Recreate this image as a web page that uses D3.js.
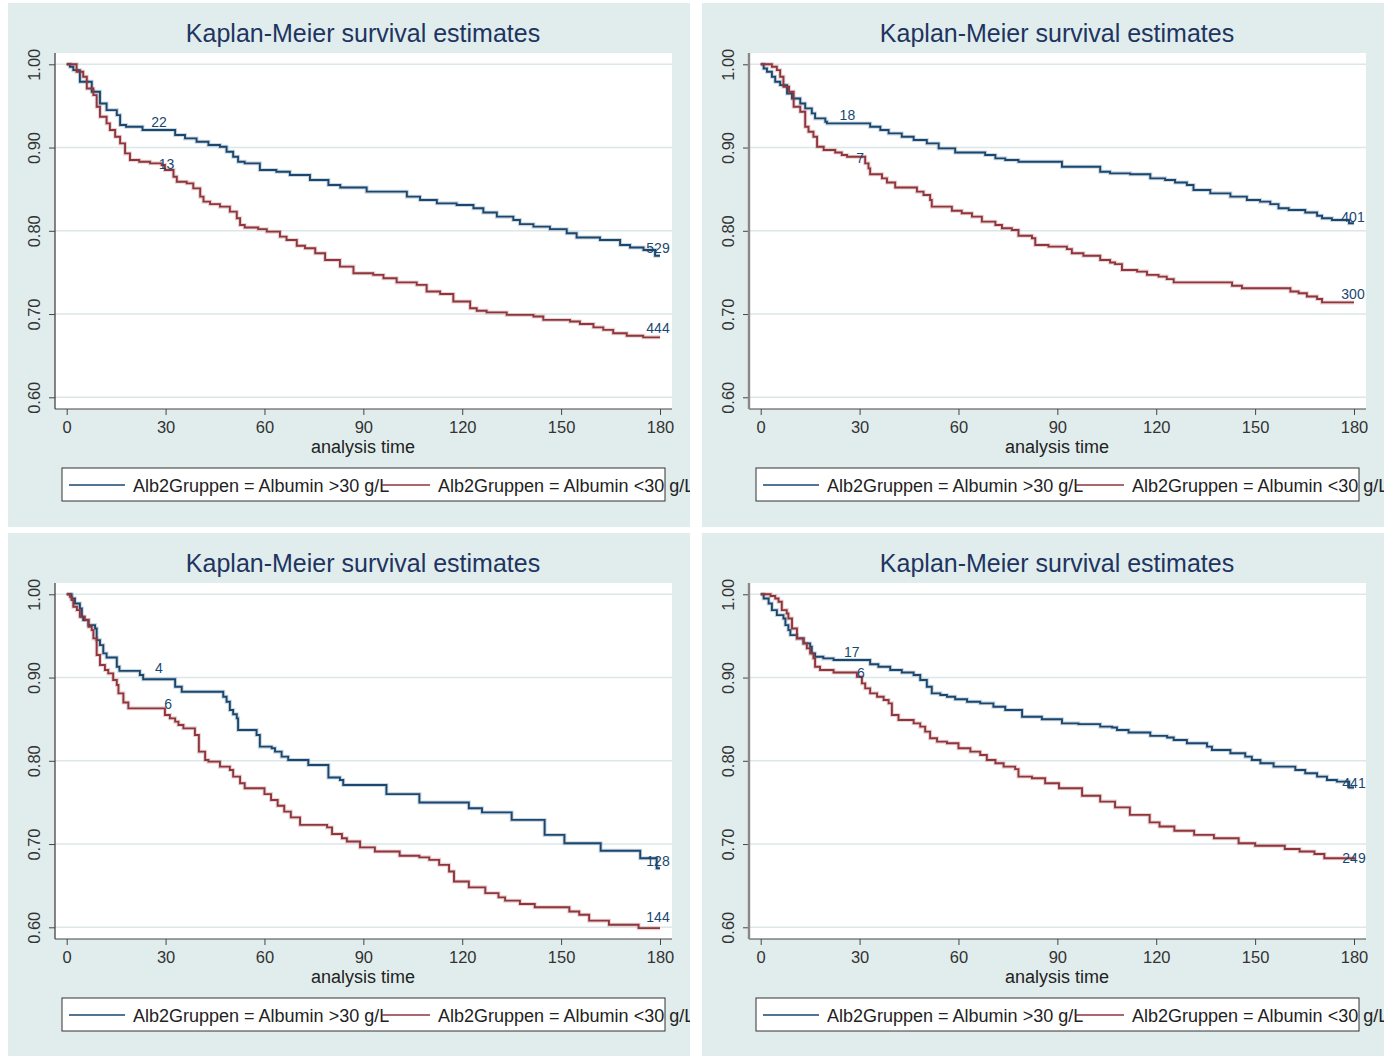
<!DOCTYPE html>
<html><head><meta charset="utf-8">
<script src="https://cdn.jsdelivr.net/npm/d3@7"></script>
<style>html,body{margin:0;padding:0;background:#fff}svg{display:block}</style>
</head><body>
<svg id="chart" width="1388" height="1056"></svg>
<script>
// ---------------- data ----------------
const chartTitle = "Kaplan-Meier survival estimates";
const xAxisTitle = "analysis time";
const xTicks = [0, 30, 60, 90, 120, 150, 180];
const yTicks = [0.60, 0.70, 0.80, 0.90, 1.00];
const groupNames = ["Alb2Gruppen = Albumin >30 g/L", "Alb2Gruppen = Albumin <30 g/L"];

// panel 1 (top left)
const p1High = [[0,1],[1,.997],[2,.993],[4,.979],[7.6,.967],[10.1,.953],[12.1,.945],[15.2,.939],[16.2,.927],[18,.925],[23,.921],[32.9,.915],[35.9,.911],[39.4,.907],[43,.903],[46.5,.901],[48.5,.895],[50.5,.889],[52,.883],[54,.881],[58.6,.873],[63.6,.871],[67.7,.867],[73.8,.861],[79.4,.855],[83,.852],[91,.847],[103.2,.841],[107.2,.837],[112.3,.833],[118.3,.831],[123.4,.827],[126.4,.822],[130.5,.817],[135.5,.813],[137.5,.808],[141.6,.805],[146.6,.802],[151.7,.797],[154.7,.792],[161.8,.789],[167.9,.783],[170.9,.780],[175,.777],[178.5,.770],[180,.770]];
const p1Low = [[0,1],[3,.991],[5,.985],[6.1,.971],[8.1,.963],[9.1,.949],[10.1,.937],[12.1,.929],[13.1,.921],[14.7,.913],[16.2,.905],[17.7,.893],[19.2,.885],[22,.883],[25.3,.881],[28.8,.879],[29.8,.873],[32.4,.865],[33.4,.859],[36.4,.857],[38.4,.851],[40.5,.841],[41.5,.835],[43.5,.832],[46.5,.829],[49.5,.823],[51.6,.815],[52.6,.807],[54,.804],[58.1,.802],[60.7,.799],[64.7,.793],[66.7,.789],[69.8,.782],[72.3,.779],[75.4,.773],[78.4,.765],[82.9,.757],[87,.749],[93,.747],[96.1,.743],[100.1,.738],[106.2,.735],[109.2,.727],[113.3,.724],[117.3,.715],[122.4,.707],[124.4,.704],[127.4,.702],[133.5,.699],[141.6,.697],[144.6,.693],[152.7,.691],[155.7,.688],[159.8,.684],[162.8,.681],[165.8,.677],[169.9,.674],[174.9,.672],[180,.672]];
const p1Labels = [[28,.925,"22"],[30.3,.874,"13"],[179.4,.773,"529"],[179.4,.677,"444"]];

// panel 2 (top right)
const p2High = [[0,1],[.9,.995],[1.9,.991],[3.4,.985],[4.4,.979],[5.9,.975],[8,.965],[9.5,.959],[12,.953],[13.5,.947],[15.5,.941],[16.5,.935],[19.6,.931],[20.1,.929],[33.2,.925],[36.3,.921],[38.8,.917],[42.8,.913],[46.4,.909],[50.4,.905],[54,.899],[59,.894],[68.1,.891],[71.2,.887],[74.2,.885],[78.2,.883],[91.4,.877],[103,.871],[106,.869],[112.1,.868],[118.2,.863],[122.7,.861],[125.7,.858],[129.3,.855],[131.3,.849],[136.4,.845],[142.5,.841],[147.5,.837],[151.5,.835],[154.6,.832],[157.1,.827],[160.2,.825],[165.2,.822],[168.8,.818],[170.3,.815],[173.3,.813],[178.5,.809],[180,.809]];
const p2Low = [[0,1],[3.4,.997],[4.9,.993],[5.9,.985],[6.9,.973],[8.6,.967],[10,.949],[12,.943],[13.5,.925],[14.5,.919],[16,.913],[17.1,.901],[19.1,.897],[22.6,.894],[24.6,.891],[26.2,.889],[31.7,.881],[32.7,.875],[33.2,.868],[36.8,.863],[38.3,.858],[40.8,.852],[47.4,.847],[49.4,.843],[51.4,.837],[51.9,.829],[58,.824],[61,.821],[64.1,.817],[67.1,.811],[71.2,.807],[73.2,.803],[76.2,.801],[78.2,.794],[82.3,.791],[83.3,.783],[87.3,.781],[92.9,.778],[94.4,.773],[97.9,.770],[103,.765],[106,.762],[107.5,.760],[109.6,.753],[114.2,.751],[117.2,.747],[120.7,.745],[123.2,.742],[125.3,.738],[143,.734],[146,.731],[160.7,.727],[163.2,.725],[165.7,.721],[168.8,.718],[170.3,.714],[180,.714]];
const p2Labels = [[26.3,.933,"18"],[30.2,.881,"7"],[179.7,.810,"401"],[179.7,.718,"300"]];

// panel 3 (bottom left)
const p3High = [[0,1],[1.5,.995],[2.5,.989],[4,.983],[4.6,.973],[5,.969],[6.6,.963],[8.6,.959],[9.1,.945],[10.1,.939],[11.1,.929],[12.1,.924],[15.2,.913],[16,.908],[22.2,.903],[23.2,.898],[32.9,.889],[34.9,.883],[47.5,.877],[48.5,.871],[49.5,.861],[50.5,.856],[51.6,.851],[52,.837],[57.6,.831],[58.6,.817],[62.2,.815],[63.2,.811],[65.2,.805],[67.2,.801],[73.3,.795],[79.4,.780],[82.9,.777],[83.9,.771],[97,.760],[107,.750],[122,.743],[126,.738],[135,.729],[145,.711],[151,.701],[162,.692],[174,.683],[179,.671],[180,.671]];
const p3Low = [[0,1],[1,.997],[1.5,.993],[2,.985],[3.1,.981],[4,.973],[5.5,.969],[6.6,.961],[7.6,.957],[8.1,.947],[9.1,.927],[10.1,.915],[11.6,.909],[12.6,.905],[14.1,.897],[15.2,.891],[15.7,.881],[17.2,.870],[18.7,.863],[29.8,.855],[31.3,.851],[32.9,.847],[33.9,.843],[35.4,.839],[38.9,.831],[40.1,.811],[42,.801],[43,.799],[46.5,.793],[49.5,.789],[50.5,.781],[52.6,.773],[54,.767],[60,.760],[62,.753],[64,.746],[66,.739],[68,.732],[70.8,.723],[79,.720],[80.5,.712],[83.5,.707],[85,.703],[89,.696],[93.5,.691],[101,.686],[107,.684],[110,.681],[113,.675],[116,.667],[117.5,.655],[122,.648],[127,.641],[131,.636],[133,.632],[137.5,.628],[142,.624],[152.5,.619],[155.5,.615],[158.5,.608],[164.5,.603],[173.5,.599],[180,.599]];
const p3Labels = [[28,.905,"4"],[30.8,.862,"6"],[179.4,.674,"128"],[179.4,.606,"144"]];

// panel 4 (bottom right)
const p4High = [[0,1],[.9,.995],[2.4,.989],[3.4,.981],[4.9,.975],[6.9,.971],[7.5,.963],[8.4,.957],[9,.951],[11,.947],[13,.941],[15,.937],[15.5,.929],[16.5,.925],[19,.923],[22.1,.921],[33.2,.916],[35.7,.913],[39.3,.909],[42.8,.906],[46.4,.903],[48.4,.897],[50.4,.889],[51.9,.881],[54.5,.879],[56.5,.877],[59,.874],[62.6,.871],[66.6,.869],[70.6,.865],[74.2,.861],[79.3,.853],[85.3,.850],[91.4,.845],[96.4,.844],[103,.841],[106.6,.840],[108.1,.837],[111.6,.834],[118.2,.830],[123.3,.828],[125.3,.825],[129.3,.821],[135.4,.817],[136.9,.813],[142.5,.809],[147,.805],[149,.801],[151.6,.797],[155.6,.793],[162.2,.789],[165.2,.785],[168.8,.781],[171.8,.777],[174.8,.775],[178.5,.768],[180,.768]];
const p4Low = [[0,1],[3,.998],[4.4,.995],[5.4,.991],[6.4,.981],[7.9,.977],[8.4,.971],[9.5,.959],[11,.947],[13,.941],[14,.935],[15,.929],[16,.923],[16.5,.913],[18,.909],[22.1,.906],[29.2,.901],[30.7,.893],[31.7,.887],[33.2,.881],[35.3,.877],[37.3,.873],[38.8,.869],[39.8,.855],[41.8,.849],[46.4,.845],[48.4,.841],[49.9,.835],[51.4,.827],[53.5,.823],[56.5,.821],[60,.815],[63.6,.811],[66.6,.807],[68.6,.801],[71.2,.797],[73.7,.793],[77.2,.790],[78.2,.781],[82.3,.779],[86.3,.773],[90.5,.767],[97.5,.758],[103,.751],[107.5,.744],[112,.735],[118,.726],[121,.721],[125.5,.716],[131.5,.711],[137.5,.707],[145,.701],[150,.698],[159,.694],[163.5,.691],[168,.688],[171,.683],[180,.681]];
const p4Labels = [[27.6,.925,"17"],[30.4,.899,"6"],[180,.767,"441"],[180,.677,"249"]];

// ---------------- layout / style ----------------
const FONT = "'Liberation Sans', Arial, Helvetica, sans-serif";
const COL_HIGH = "#1a476f", COL_LOW = "#90353b";
const BG = "#e1eded", GRID = "#dbe7e8";
const PW = 682, PH = 524;
const origins = [[8,3],[702,3],[8,533],[702,533]];
const yAxisWidths = [1.3, 2.4, 1.3, 2.4];
const yAxisColors = ["#444", "#888", "#444", "#888"];
const panels = [
  {high: p1High, low: p1Low, labels: p1Labels},
  {high: p2High, low: p2Low, labels: p2Labels},
  {high: p3High, low: p3Low, labels: p3Labels},
  {high: p4High, low: p4Low, labels: p4Labels}
];
const plotL = 47, plotR = 664, plotT = 50, plotB = 406;

const svg = d3.select("#chart");
const x = d3.scaleLinear().domain([0, 180]).range([58.7, 652]);
const y = d3.scaleLinear().domain([0.6, 1.0]).range([394.3, 61.3]);
const line = d3.line().x(d => x(d[0])).y(d => y(d[1])).curve(d3.curveStepAfter);

panels.forEach((p, i) => {
  const [ox, oy] = origins[i];
  const clipId = "clip" + i;
  svg.append("clipPath").attr("id", clipId)
    .append("rect").attr("x", 0).attr("y", 0).attr("width", PW).attr("height", PH);
  const g = svg.append("g").attr("transform", `translate(${ox},${oy})`)
    .attr("clip-path", `url(#${clipId})`);

  g.append("rect").attr("width", PW).attr("height", PH).attr("fill", BG);
  g.append("rect").attr("x", plotL).attr("y", plotT)
    .attr("width", plotR - plotL).attr("height", plotB - plotT).attr("fill", "#fff");

  // gridlines
  g.selectAll("line.grid").data(yTicks).enter().append("line")
    .attr("class", "grid")
    .attr("x1", plotL).attr("x2", plotR)
    .attr("y1", d => y(d)).attr("y2", d => y(d))
    .attr("stroke", GRID).attr("stroke-width", 1.5);

  // title
  g.append("text").attr("x", 355).attr("y", 39).attr("text-anchor", "middle")
    .attr("font-family", FONT).attr("font-size", 25).attr("fill", "#1e3461")
    .text(chartTitle);

  // x axis
  const xa = g.append("g").attr("transform", `translate(0,${plotB})`)
    .call(d3.axisBottom(x).tickValues(xTicks).tickSize(6).tickPadding(6.5).tickFormat(d3.format("d")));
  xa.select(".domain").remove();
  xa.selectAll(".tick line").attr("stroke", "#444").attr("stroke-width", 1);
  xa.selectAll(".tick text").attr("font-family", FONT).attr("font-size", 16.5).attr("fill", "#333");
  g.append("line").attr("x1", plotL).attr("x2", plotR).attr("y1", plotB).attr("y2", plotB)
    .attr("stroke", "#444").attr("stroke-width", 1.2);

  // y axis
  const ya = g.append("g").attr("transform", `translate(${plotL},0)`)
    .call(d3.axisLeft(y).tickValues(yTicks).tickSize(6).tickFormat(d3.format(".2f")));
  ya.select(".domain").remove();
  ya.selectAll(".tick line").attr("stroke", "#444").attr("stroke-width", 1);
  ya.selectAll(".tick text")
    .attr("transform", "rotate(-90)")
    .attr("x", 0).attr("y", -15).attr("dy", 0)
    .attr("text-anchor", "middle")
    .attr("font-family", FONT).attr("font-size", 16.5).attr("fill", "#333");
  g.append("line").attr("x1", plotL).attr("x2", plotL).attr("y1", plotT).attr("y2", plotB)
    .attr("stroke", yAxisColors[i]).attr("stroke-width", yAxisWidths[i]);

  // x axis title
  g.append("text").attr("x", 363 - 8).attr("y", 450).attr("text-anchor", "middle")
    .attr("font-family", FONT).attr("font-size", 18).attr("fill", "#222")
    .text(xAxisTitle);

  // curves
  [[p.high, COL_HIGH], [p.low, COL_LOW]].forEach(([data, col]) => {
    g.append("path").datum(data).attr("d", line).attr("fill", "none")
      .attr("stroke", col).attr("stroke-opacity", 0.22).attr("stroke-width", 4);
    g.append("path").datum(data).attr("d", line).attr("fill", "none")
      .attr("stroke", col).attr("stroke-width", 1.9);
  });

  // at-risk numbers
  g.selectAll("text.risk").data(p.labels).enter().append("text")
    .attr("class", "risk")
    .attr("x", d => x(d[0])).attr("y", d => y(d[1]))
    .attr("text-anchor", "middle")
    .attr("font-family", FONT).attr("font-size", 14).attr("fill", COL_HIGH)
    .text(d => d[2]);

  // legend
  g.append("rect").attr("x", 54).attr("y", 465).attr("width", 603).attr("height", 33)
    .attr("fill", "#fff").attr("stroke", "#333").attr("stroke-width", 1);
  const legX = [[61, 117, 125], [374, 422, 430]];
  groupNames.forEach((name, k) => {
    g.append("text").attr("x", legX[k][2]).attr("y", 489)
      .attr("font-family", FONT).attr("font-size", 18).attr("fill", "#222")
      .text(name);
  });
  groupNames.forEach((name, k) => {
    g.append("line").attr("x1", legX[k][0]).attr("x2", legX[k][1])
      .attr("y1", 482).attr("y2", 482)
      .attr("stroke", k === 0 ? COL_HIGH : COL_LOW).attr("stroke-width", 1.6);
  });
});
</script>
</body></html>
